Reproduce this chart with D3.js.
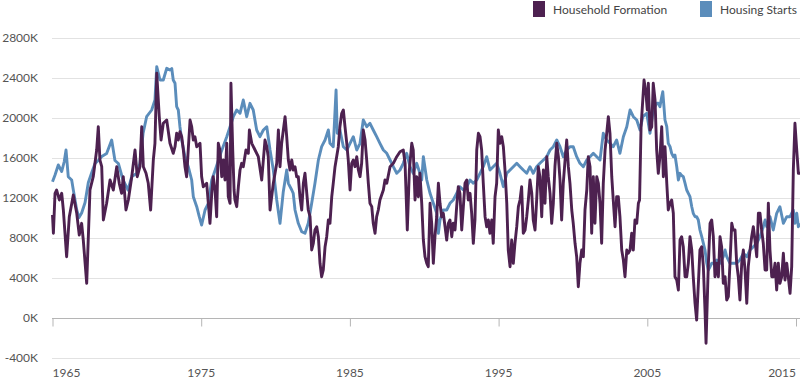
<!DOCTYPE html>
<html><head><meta charset="utf-8">
<script src="https://cdn.jsdelivr.net/npm/d3@7/dist/d3.min.js"></script>
<style>
body{margin:0;background:#fff;}
text{font-family:Lato,"Open Sans",sans-serif;}
</style></head>
<body><svg id="c" width="800" height="380"></svg>
<script>
const seriesNames = ["Household Formation","Housing Starts"];
const seriesColors = ["#4d2150","#5b8dbb"];
const yTicks = [-400,0,400,800,1200,1600,2000,2400,2800];
const xTicks = [1965,1975,1985,1995,2005,2015];

const hfYears = [1965.00,1965.06,1965.17,1965.28,1965.46,1965.62,1965.73,1965.95,1966.13,1966.40,1966.63,1966.80,1966.96,1967.07,1967.30,1967.52,1967.74,1967.97,1968.08,1968.19,1968.31,1968.42,1968.64,1968.87,1969.09,1969.32,1969.49,1969.65,1969.76,1969.94,1970.10,1970.33,1970.55,1970.70,1970.88,1971.00,1971.11,1971.29,1971.44,1971.60,1971.78,1971.89,1972.01,1972.18,1972.30,1972.45,1972.68,1972.90,1973.12,1973.24,1973.35,1973.46,1973.57,1973.69,1973.80,1973.91,1974.02,1974.25,1974.36,1974.47,1974.58,1974.70,1974.92,1975.03,1975.14,1975.37,1975.48,1975.59,1975.71,1975.81,1975.93,1976.04,1976.15,1976.26,1976.38,1976.49,1976.60,1976.72,1976.82,1976.94,1977.00,1977.12,1977.21,1977.27,1977.39,1977.50,1977.61,1977.72,1977.83,1978.01,1978.17,1978.24,1978.40,1978.62,1978.84,1979.07,1979.29,1979.41,1979.51,1979.63,1979.85,1980.08,1980.19,1980.30,1980.41,1980.64,1980.75,1980.86,1980.97,1981.09,1981.19,1981.31,1981.42,1981.53,1981.64,1981.76,1981.87,1981.98,1982.10,1982.20,1982.32,1982.43,1982.54,1982.65,1982.77,1982.88,1982.99,1983.10,1983.21,1983.33,1983.44,1983.55,1983.66,1983.78,1983.88,1984.00,1984.11,1984.22,1984.33,1984.45,1984.56,1984.67,1984.79,1984.89,1985.01,1985.12,1985.23,1985.34,1985.46,1985.57,1985.68,1985.79,1985.90,1986.02,1986.13,1986.24,1986.35,1986.47,1986.57,1986.69,1986.80,1986.91,1987.02,1987.25,1987.36,1987.48,1987.70,1987.92,1988.15,1988.37,1988.59,1988.71,1988.86,1989.00,1989.16,1989.26,1989.38,1989.49,1989.60,1989.71,1989.83,1989.94,1990.05,1990.17,1990.27,1990.39,1990.50,1990.61,1990.72,1990.84,1990.95,1991.06,1991.17,1991.28,1991.40,1991.51,1991.62,1991.73,1991.85,1991.95,1992.07,1992.18,1992.29,1992.40,1992.52,1992.63,1992.74,1992.86,1992.96,1993.08,1993.19,1993.30,1993.41,1993.53,1993.64,1993.75,1993.86,1993.97,1994.09,1994.20,1994.31,1994.42,1994.54,1994.64,1994.76,1994.87,1994.98,1995.09,1995.21,1995.32,1995.43,1995.55,1995.65,1995.77,1995.88,1995.99,1996.10,1996.22,1996.33,1996.44,1996.55,1996.66,1996.78,1996.89,1997.00,1997.11,1997.23,1997.33,1997.45,1997.56,1997.67,1997.78,1997.90,1998.01,1998.12,1998.24,1998.34,1998.46,1998.57,1998.68,1998.79,1998.91,1999.02,1999.13,1999.24,1999.35,1999.47,1999.58,1999.69,1999.80,1999.92,2000.02,2000.14,2000.25,2000.36,2000.47,2000.59,2000.70,2000.81,2000.93,2001.03,2001.15,2001.26,2001.37,2001.48,2001.60,2001.71,2001.82,2001.93,2002.04,2002.16,2002.27,2002.38,2002.49,2002.61,2002.71,2002.83,2002.94,2003.05,2003.16,2003.28,2003.39,2003.50,2003.62,2003.72,2003.84,2003.95,2004.06,2004.17,2004.29,2004.40,2004.48,2004.58,2004.78,2004.91,2005.00,2005.07,2005.18,2005.30,2005.40,2005.52,2005.63,2005.74,2005.85,2005.97,2006.08,2006.19,2006.31,2006.41,2006.53,2006.64,2006.75,2006.86,2006.98,2007.09,2007.20,2007.31,2007.42,2007.54,2007.65,2007.76,2007.87,2007.99,2008.09,2008.21,2008.32,2008.54,2008.66,2008.77,2008.88,2008.95,2009.10,2009.22,2009.33,2009.44,2009.55,2009.67,2009.78,2009.89,2010.00,2010.11,2010.23,2010.34,2010.45,2010.56,2010.68,2010.78,2010.90,2011.01,2011.12,2011.23,2011.35,2011.46,2011.57,2011.69,2011.79,2011.91,2012.02,2012.13,2012.24,2012.36,2012.47,2012.58,2012.69,2012.80,2012.92,2013.03,2013.14,2013.25,2013.37,2013.47,2013.59,2013.70,2013.81,2013.92,2014.04,2014.15,2014.26,2014.38,2014.48,2014.60,2014.71,2014.82,2014.93,2015.05,2015.16,2015.27];
const hfValues = [1025,842,1242,1275,1175,1242,1075,608,1008,1225,1042,825,942,775,342,1275,1408,1675,1908,1575,1508,975,1142,1375,1275,1508,1342,1242,1408,1075,1175,1408,1675,1408,1508,1908,1508,1442,1342,1075,1575,1742,2442,2008,1775,1942,1975,1742,1642,1708,1842,1775,1858,1808,1675,1508,1408,1975,1908,1775,1808,1708,1742,1408,1308,1342,1142,942,1242,1408,1275,1008,1742,1675,1408,1575,1375,1742,1208,1142,2342,1675,1275,1175,1108,1308,1475,1542,1508,1675,1642,1875,1742,1675,1608,1375,1775,1708,1608,1075,1342,1542,1875,1508,1742,2008,1808,1575,1475,1575,1475,1508,1408,1408,1208,1075,1342,1442,1242,1075,1008,675,742,875,908,808,542,408,475,708,808,975,942,1208,1342,1508,1608,1708,1908,2042,2075,1908,1742,1575,1275,1542,1575,1508,1608,1475,1408,1542,1875,1775,1575,1342,1142,1108,942,842,1008,1075,1175,1275,1375,1342,1508,1542,1608,1658,1675,1542,875,1475,1742,1675,1175,1408,1208,1442,1142,775,608,542,508,1142,942,542,808,1008,1342,1142,1008,1042,908,775,942,975,808,942,875,1108,1308,1242,875,1108,1342,1375,1175,1242,1042,742,975,1675,1842,1808,1675,1342,1008,908,975,842,975,742,1208,1342,1875,1742,1808,1708,1475,1142,675,508,775,542,742,908,1108,1175,1308,842,875,1008,1175,1375,1242,975,875,1175,1508,1408,1008,1475,1142,1608,1408,1242,942,1142,1508,1742,1608,1375,975,1342,1575,1775,1508,1342,1075,942,742,608,308,542,675,608,1075,1275,1608,1508,842,1408,942,1408,1342,1142,742,1342,1675,1842,2008,1842,1408,1175,908,1208,1208,1008,675,575,408,675,642,675,842,675,975,942,1142,1175,1900,2375,2242,2075,2342,1875,1908,2342,2175,1675,1442,1608,1908,1408,1708,1342,1075,1142,1175,1042,408,375,275,775,808,708,408,408,542,808,675,408,142,-25,675,708,508,75,-258,508,942,975,808,408,542,408,808,708,342,408,175,208,542,942,875,875,542,408,175,542,675,475,142,508,675,808,908,775,608,1042,1042,875,742,475,475,1142,675,408,408,542,275,542,342,408,642,375,542,408,242,508,1475,1942,1675,1442,1442];

const hsYears = [1965.00,1965.17,1965.39,1965.62,1965.79,1965.91,1966.06,1966.29,1966.40,1966.63,1966.78,1966.96,1967.19,1967.41,1967.64,1967.86,1968.08,1968.31,1968.64,1968.98,1969.20,1969.43,1969.74,1970.08,1970.33,1970.66,1970.88,1971.09,1971.33,1971.67,1971.89,1972.01,1972.23,1972.45,1972.68,1972.90,1973.02,1973.12,1973.24,1973.35,1973.46,1973.57,1973.69,1973.91,1974.13,1974.36,1974.47,1974.70,1974.87,1975.03,1975.26,1975.48,1975.71,1976.00,1976.33,1976.72,1976.94,1977.16,1977.39,1977.61,1977.83,1978.06,1978.28,1978.50,1978.73,1978.95,1979.18,1979.41,1979.63,1979.85,1980.08,1980.30,1980.52,1980.75,1980.86,1981.09,1981.19,1981.31,1981.53,1981.76,1981.98,1982.20,1982.43,1982.65,1982.88,1983.10,1983.33,1983.55,1983.66,1983.88,1984.07,1984.15,1984.33,1984.56,1984.79,1985.01,1985.23,1985.46,1985.68,1985.90,1986.13,1986.35,1986.57,1986.80,1987.02,1987.25,1987.48,1987.70,1987.92,1988.15,1988.37,1988.59,1988.82,1989.04,1989.26,1989.49,1989.71,1989.83,1989.94,1990.17,1990.39,1990.61,1990.84,1990.95,1991.06,1991.28,1991.51,1991.73,1991.95,1992.18,1992.40,1992.63,1992.86,1993.08,1993.30,1993.53,1993.75,1993.97,1994.20,1994.42,1994.64,1994.87,1995.09,1995.32,1995.55,1995.77,1995.99,1996.22,1996.44,1996.66,1996.89,1997.11,1997.33,1997.56,1997.78,1998.01,1998.24,1998.46,1998.68,1998.91,1999.13,1999.35,1999.58,1999.80,2000.02,2000.25,2000.47,2000.70,2000.93,2001.15,2001.37,2001.60,2001.82,2002.04,2002.27,2002.49,2002.71,2002.94,2003.16,2003.39,2003.62,2003.84,2004.06,2004.29,2004.51,2004.70,2004.96,2005.18,2005.40,2005.63,2005.74,2005.85,2005.97,2006.04,2006.12,2006.19,2006.31,2006.41,2006.53,2006.64,2006.75,2006.86,2006.98,2007.09,2007.20,2007.31,2007.42,2007.54,2007.65,2007.76,2007.87,2007.99,2008.09,2008.21,2008.32,2008.43,2008.54,2008.66,2008.77,2008.88,2009.00,2009.10,2009.22,2009.33,2009.44,2009.67,2009.89,2010.11,2010.23,2010.34,2010.56,2010.78,2011.01,2011.23,2011.46,2011.69,2011.91,2012.13,2012.36,2012.58,2012.80,2012.92,2013.03,2013.25,2013.47,2013.70,2013.92,2014.15,2014.38,2014.60,2014.82,2014.93,2015.05,2015.16,2015.27];
const hsValues = [1358,1425,1525,1460,1560,1675,1408,1375,1275,1075,1000,1045,1150,1350,1450,1540,1570,1610,1640,1775,1570,1540,1375,1275,1410,1440,1540,1840,2008,2075,2175,2508,2375,2375,2492,2475,2490,2375,2342,2108,2075,1908,1775,1608,1508,1375,1208,1108,1008,925,1075,1142,1375,1500,1650,1808,1908,2008,2075,2042,2175,2008,2142,2075,1875,1808,1875,1908,1675,1475,1175,942,1258,1475,1342,1275,1242,1075,942,858,842,942,1142,1342,1575,1708,1775,1875,1742,1708,2275,1842,1875,1708,1675,1742,1808,1675,1742,1975,1908,1942,1875,1808,1742,1675,1642,1575,1508,1442,1475,1542,1642,1508,1442,1542,1442,1375,1608,1375,1242,1142,1042,842,975,1075,1075,1142,1175,1242,1308,1275,1308,1375,1342,1375,1442,1508,1608,1475,1508,1542,1442,1308,1442,1475,1508,1542,1508,1475,1442,1508,1442,1508,1542,1575,1608,1675,1708,1775,1708,1608,1675,1708,1708,1608,1542,1508,1575,1608,1642,1608,1575,1842,1775,1742,1708,1775,1642,1808,1908,2075,2008,1975,1875,2008,2042,1842,2075,2142,2142,2108,2208,2258,2108,1975,1908,1742,1708,1642,1608,1625,1508,1375,1442,1420,1408,1342,1275,1242,1208,1108,1042,1008,1008,975,875,808,742,675,542,475,508,542,542,575,542,608,675,608,542,542,542,575,642,608,675,708,742,808,908,975,908,1008,875,1042,1108,942,1008,1008,1075,942,1042,908,942];

const svg = d3.select("#c");
const x = d3.scaleLinear().domain([1965, 2015]).range([52.5, 796]);
const y = d3.scaleLinear().domain([0, 2800]).range([317.5, 37.5]);

// gridlines
svg.append("g").selectAll("line").data(yTicks.filter(d => d !== 0)).join("line")
  .attr("x1", 52).attr("x2", 800)
  .attr("y1", d => Math.round(y(d)) + 0.5).attr("y2", d => Math.round(y(d)) + 0.5)
  .attr("stroke", "#e2e2e2").attr("stroke-width", 1);

// y labels
svg.append("g").selectAll("text").data(yTicks).join("text")
  .attr("x", 38).attr("y", d => y(d) + 4.5)
  .attr("text-anchor", "end").attr("font-size", 12).attr("fill", "#555")
  .text(d => d + "K");

// zero axis with ticks
const xAxis = d3.axisBottom(x).tickValues(xTicks).tickSize(8).tickFormat("");
const ax = svg.append("g").attr("transform", `translate(0,${Math.round(y(0)) + 0.5})`).call(xAxis);
ax.select(".domain").attr("d", `M52,0H800`).attr("stroke", "#b5b5b5");
ax.selectAll(".tick line").attr("stroke", "#b5b5b5");

// x labels
svg.append("g").selectAll("text").data(xTicks).join("text")
  .attr("x", (d, i) => x(d))
  .attr("y", 377)
  .attr("text-anchor", (d, i) => i === 0 ? "start" : (i === xTicks.length - 1 ? "end" : "middle"))
  .attr("font-size", 12).attr("fill", "#555")
  .text(d => d);

const line = d3.line().x(d => x(d[0])).y(d => y(d[1])).curve(d3.curveLinear);
const hs = hsYears.map((t, i) => [t, hsValues[i]]);
const hf = hfYears.map((t, i) => [t, hfValues[i]]);

svg.append("path").datum(hs).attr("d", line).attr("fill", "none")
  .attr("stroke", seriesColors[1]).attr("stroke-width", 2.9).attr("stroke-linejoin", "round");
svg.append("path").datum(hf).attr("d", line).attr("fill", "none")
  .attr("stroke", seriesColors[0]).attr("stroke-width", 2.9).attr("stroke-linejoin", "round");

// legend
const legendX = [533, 700];
const lg = svg.append("g").selectAll("g").data(seriesNames).join("g")
  .attr("transform", (d, i) => `translate(${legendX[i]},0)`);
lg.append("rect").attr("x", 0).attr("y", 1).attr("width", 12).attr("height", 16)
  .attr("fill", (d, i) => seriesColors[i]);
lg.append("text").attr("x", 20).attr("y", 13.5).attr("font-size", 12).attr("fill", "#444")
  .text(d => d);
</script></body></html>
